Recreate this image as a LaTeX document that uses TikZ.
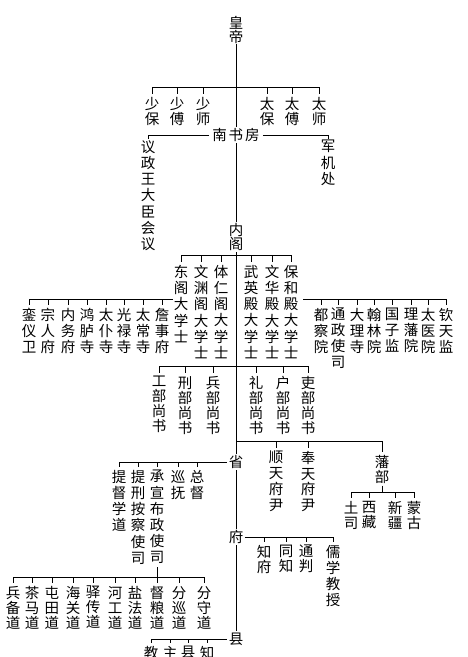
\documentclass[tikz,border=0pt]{standalone}
\usepackage{fontspec}
\newfontfamily\cjk{Noto Sans CJK SC}
\newcommand\mytick[2]{\draw[ln] (#2.north |- #1) -- ([yshift=3pt]#2.north);}
\begin{document}
\begin{tikzpicture}[x=1pt,y=-1pt,
  col/.style={font=\cjk\fontsize{14.5}{#1}\selectfont, align=center, inner sep=0pt, anchor=north},
  col/.default=16,
  one/.style={font=\cjk\fontsize{14.5}{16}\selectfont, inner sep=1.5pt},
  ln/.style={line width=0.8pt, black}]
\useasboundingbox (0,0) rectangle (468,657);
\clip (0,0) rectangle (468,657);
\fill[white] (0,0) rectangle (468,657);

% ---- spine nodes
\node[col=14] (hd) at (236,16) {皇\\帝};
\node[one, inner xsep=3pt] (nsf) at (236,135) {南\hspace{2pt}书\hspace{2pt}房};
\node[col=14, inner sep=1.5pt] (ng) at (236,221.5) {内\\阁};
\node[one] (sheng) at (236,462) {省};
\node[one] (fu) at (236,537) {府};
\node[one] (xian) at (236,639) {县};

\draw[ln] (hd) -- (nsf);
\draw[ln] (nsf) -- (ng);
\draw[ln] (ng) -- (sheng);
\draw[ln] (sheng) -- (fu);
\draw[ln] (fu) -- (xian);

% ---- three dukes and three solitaries
\node[col=15] (a1) at (152,97) {少\\保};
\node[col=15] (a2) at (177,97) {少\\傅};
\node[col=15] (a3) at (203,97) {少\\师};
\node[col=15] (a4) at (267,97) {太\\保};
\node[col=15] (a5) at (292,97) {太\\傅};
\node[col=15] (a6) at (319,97) {太\\师};
\coordinate (h87) at (236,87);
\draw[ln] (a1.north |- h87) -- (a6.north |- h87);
\foreach \n in {a1,a2,a3,a4,a5,a6} {\mytick{h87}{\n}}

% ---- nanshufang branches
\node[col=16.3] (yz) at (148,140) {议\\政\\王\\大\\臣\\会\\议};
\node[col=16.5] (jj) at (328,140) {军\\机\\处};
\draw[ln] (nsf.west) -| ([yshift=1pt]yz.north);
\draw[ln] (nsf.east) -| ([yshift=1pt]jj.north);

% ---- grand secretaries
\node[col=16.2] (x1) at (181,265) {东\\阁\\大\\学\\士};
\node[col=16.2] (x2) at (201,265) {文\\渊\\阁\\大\\学\\士};
\node[col=16.2] (x3) at (221,265) {体\\仁\\阁\\大\\学\\士};
\node[col=16.2] (x4) at (251,265) {武\\英\\殿\\大\\学\\士};
\node[col=16.2] (x5) at (272,265) {文\\华\\殿\\大\\学\\士};
\node[col=16.2] (x6) at (291,265) {保\\和\\殿\\大\\学\\士};
\coordinate (h255) at (236,255);
\draw[ln] (x1.north |- h255) -- (x6.north |- h255);
\foreach \n in {x1,x2,x3,x4,x5,x6} {\mytick{h255}{\n}}

% ---- left offices
\node[col] (l1) at (29,308) {銮\\仪\\卫};
\node[col] (l2) at (48,308) {宗\\人\\府};
\node[col] (l3) at (68,308) {内\\务\\府};
\node[col] (l4) at (87,308) {鸿\\胪\\寺};
\node[col] (l5) at (106,308) {太\\仆\\寺};
\node[col] (l6) at (124,308) {光\\禄\\寺};
\node[col] (l7) at (143,308) {太\\常\\寺};
\node[col] (l8) at (162,308) {詹\\事\\府};
\coordinate (h299) at (173,299);
\draw[ln] (l1.north |- h299) -- (h299);
\foreach \n in {l1,l2,l3,l4,l5,l6,l7,l8} {\mytick{h299}{\n}}

% ---- right offices
\node[col] (r1) at (321,308) {都\\察\\院};
\node[col] (r2) at (338,308) {通\\政\\使\\司};
\node[col] (r3) at (357,308) {大\\理\\寺};
\node[col] (r4) at (374,308) {翰\\林\\院};
\node[col] (r5) at (392,308) {国\\子\\监};
\node[col] (r6) at (411,308) {理\\藩\\院};
\node[col] (r7) at (428,308) {太\\医\\院};
\node[col] (r8) at (446,308) {钦\\天\\监};
\coordinate (h299r) at (303,299);
\draw[ln] (h299r) -- (r8.north |- h299r);
\foreach \n in {r1,r2,r3,r4,r5,r6,r7,r8} {\mytick{h299r}{\n}}

% ---- six ministries
\node[col=15] (b1) at (159,376) {工\\部\\尚\\书};
\node[col=15] (b2) at (185,376) {刑\\部\\尚\\书};
\node[col=15] (b3) at (213,376) {兵\\部\\尚\\书};
\node[col=15] (b4) at (256,376) {礼\\部\\尚\\书};
\node[col=15] (b5) at (283,376) {户\\部\\尚\\书};
\node[col=15] (b6) at (308,376) {吏\\部\\尚\\书};
\coordinate (h366) at (236,366);
\draw[ln] (b1.north |- h366) -- (b6.north |- h366);
\foreach \n in {b1,b2,b3,b4,b5,b6} {\mytick{h366}{\n}}

% ---- capital prefects and dependencies
\node[col=15.7] (c1) at (276,451) {顺\\天\\府\\尹};
\node[col=15.7] (c2) at (308,451) {奉\\天\\府\\尹};
\node[col=15] (fan) at (382,455) {藩\\部};
\coordinate (h441) at (236,441);
\draw[ln] (h441) -| ([yshift=3pt]fan.north);
\mytick{h441}{c1}
\mytick{h441}{c2}

\node[col=15] (p1) at (351,501) {土\\司};
\node[col=15] (p2) at (369,501) {西\\藏};
\node[col=15] (p3) at (395,501) {新\\疆};
\node[col=15] (p4) at (414,501) {蒙\\古};
\coordinate (h492) at (382,492);
\draw[ln] ([yshift=-2pt]fan.south) -- (h492);
\draw[ln] (p1.north |- h492) -- (p4.north |- h492);
\foreach \n in {p1,p2,p3,p4} {\mytick{h492}{\n}}

% ---- province
\node[col=16.2] (s1) at (119,470) {提\\督\\学\\道};
\node[col=16.2] (s2) at (138,470) {提\\刑\\按\\察\\使\\司};
\node[col=16.2] (s3) at (157,470) {承\\宣\\布\\政\\使\\司};
\node[col=16.2] (s4) at (178,470) {巡\\抚};
\node[col=16.2] (s5) at (197,470) {总\\督};
\draw[ln] (s1.north |- sheng.west) -- (sheng.west);
\foreach \n in {s1,s2,s3,s4,s5} {\mytick{sheng.west}{\n}}

% ---- circuits
\node[col=15] (d1) at (13,586) {兵\\备\\道};
\node[col=15] (d2) at (32,586) {茶\\马\\道};
\node[col=15] (d3) at (52,586) {屯\\田\\道};
\node[col=15] (d4) at (73,586) {海\\关\\道};
\node[col=15] (d5) at (93,586) {驿\\传\\道};
\node[col=15] (d6) at (115,586) {河\\工\\道};
\node[col=15] (d7) at (135,586) {盐\\法\\道};
\node[col=15] (d8) at (157,586) {督\\粮\\道};
\node[col=15] (d9) at (179,586) {分\\巡\\道};
\node[col=15] (d10) at (204,586) {分\\守\\道};
\coordinate (h577) at (13,577);
\draw[ln] (d1.north |- h577) -- (d10.north |- h577);
\draw[ln] ([yshift=-3pt]s3.south) -- (s3.south |- h577);
\foreach \n in {d1,d2,d3,d4,d5,d6,d7,d8,d9,d10} {\mytick{h577}{\n}}

% ---- prefecture
\node[col=15] (f1) at (264,545) {知\\府};
\node[col=15] (f2) at (286,545) {同\\知};
\node[col=15] (f3) at (306,545) {通\\判};
\node[col=16] (f4) at (333,545) {儒\\学\\教\\授};
\draw[ln] (fu.east) -- (f4.north |- fu.east);
\foreach \n in {f1,f2,f3,f4} {\mytick{fu.east}{\n}}

% ---- county
\node[col] (k1) at (151,646) {教};
\node[col] (k2) at (170,646) {主};
\node[col] (k3) at (188,646) {县};
\node[col] (k4) at (207,646) {知};
\draw[ln] (k1.north |- xian.west) -- (xian.west);
\foreach \n in {k1,k2,k3,k4} {\mytick{xian.west}{\n}}
\end{tikzpicture}
\end{document}
